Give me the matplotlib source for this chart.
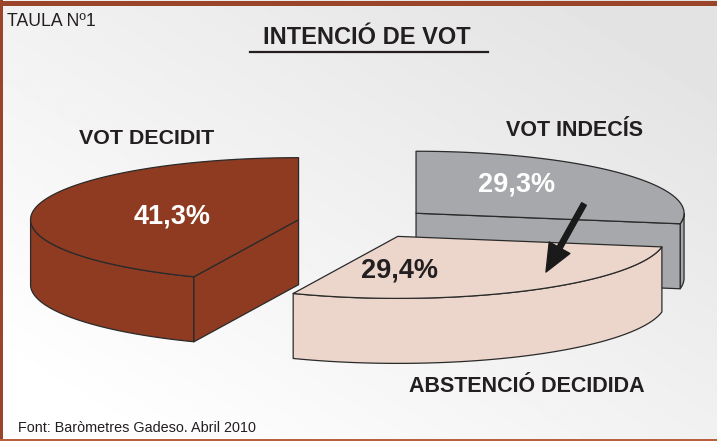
import numpy as np
import matplotlib.pyplot as plt
from matplotlib.patches import Polygon, Rectangle

plt.rcParams['font.family'] = ['Liberation Sans', 'DejaVu Sans']

# data (counter-clockwise from the back of the pie)
labels = ['VOT DECIDIT', 'ABSTENCIÓ DECIDIDA', 'VOT INDECÍS']
values = [41.3, 29.4, 29.3]
pct_labels = ['41,3%', '29,4%', '29,3%']
colors = ['#8e3b22', '#ecd6cb', '#a7a8ab']

W, H = 717, 441
fig = plt.figure(figsize=(W / 100, H / 100), dpi=100)
ax = fig.add_axes([0, 0, 1, 1])
ax.set_xlim(0, W)
ax.set_ylim(H, 0)
ax.axis('off')

# background: white bottom-left fading to light grey top-right
xx, yy = np.meshgrid(np.linspace(0, 1, 300), np.linspace(0, 1, 300))
t = np.clip((xx + (1 - yy)) * 0.6 - 0.1, 0, 1)
ax.imshow(1 - 0.11 * t, cmap='gray', vmin=0, vmax=1, extent=(0, W, H, 0),
          aspect='auto', zorder=0, interpolation='bilinear')

# frame
ax.add_patch(Rectangle((0, 1), W, 5, color='#9a4529', zorder=1, lw=0))
ax.add_patch(Rectangle((0, 0), 3, H, color='#9a4529', zorder=1, lw=0))
ax.add_patch(Rectangle((0, H - 2.5), W, 2.5, color='#b9613f', zorder=1, lw=0))

# 3d exploded pie
cx0, cy0 = 364, 223
rx, ry = 268, 62
depth = 65
explode = 0.25
warp = 9.0   # slight perspective stretch of the front half
edge = '#2a2a2a'

def view(a):
    # screen angle for a pie angle (degrees)
    return a + warp * (1 - np.sin(np.radians(a))) / 2

slices = []
start = 90.0
for lab, v, c in zip(labels, values, colors):
    a0, a1 = start, start + 360 * v / 100
    start = a1
    mid = np.radians(view((a0 + a1) / 2))
    cx = cx0 + explode * rx * np.cos(mid)
    cy = cy0 - explode * ry * np.sin(mid)
    slices.append((cy, cx, view(a0), view(a1), c))

def pt(cx, cy, a, dz=0):
    r = np.radians(a)
    return cx + rx * np.cos(r), cy - ry * np.sin(r) + dz

for cy, cx, a0, a1, c in sorted(slices):
    th = np.linspace(a0, a1, 200)
    xs, ys = pt(cx, cy, th)
    style = dict(facecolor=c, edgecolor=edge, lw=0.9, joinstyle='round')
    # outer wall (front half only)
    m = np.sin(np.radians(th)) <= 1e-9
    if m.any():
        wx, wy = xs[m], ys[m]
        wall = np.column_stack([np.r_[wx, wx[::-1]], np.r_[wy, wy[::-1] + depth]])
        ax.add_patch(Polygon(wall, zorder=2, **style))
    # radial faces facing the viewer
    for a, vis in ((a0, np.cos(np.radians(a0)) > 1e-6), (a1, np.cos(np.radians(a1)) < -1e-6)):
        if vis:
            ex, ey = pt(cx, cy, a)
            face = [(cx, cy), (ex, ey), (ex, ey + depth), (cx, cy + depth)]
            ax.add_patch(Polygon(face, zorder=2, **style))
    top = np.column_stack([np.r_[cx, xs], np.r_[cy, ys]])
    ax.add_patch(Polygon(top, zorder=2, **style))

# texts
dark = '#231f20'
ax.text(7, 22, 'TAULA Nº1', fontsize=12.7, color=dark, va='center', ha='left')
ax.text(367, 37, 'INTENCIÓ DE VOT', fontsize=17, fontweight='bold', color=dark,
        ha='center', va='center')
ax.plot([250, 488], [52, 52], color=dark, lw=1.6, zorder=3)

ax.text(147, 138, labels[0], fontsize=15.4, fontweight='bold', color=dark, ha='center', va='center')
ax.text(574, 130, labels[2], fontsize=15.5, fontweight='bold', color=dark, ha='center', va='center')
ax.text(527, 386, labels[1], fontsize=15.5, fontweight='bold', color=dark, ha='center', va='center')

ax.text(172, 216, pct_labels[0], fontsize=19.5, fontweight='bold', color='white',
        ha='center', va='center', zorder=4)
ax.text(517, 184, pct_labels[2], fontsize=19.5, fontweight='bold', color='white',
        ha='center', va='center', zorder=4)
ax.text(400, 270, pct_labels[1], fontsize=19.5, fontweight='bold', color=dark,
        ha='center', va='center', zorder=4)

ax.annotate('', xy=(546, 272), xytext=(584, 204), zorder=5,
            arrowprops=dict(facecolor='#1a1a1a', edgecolor='#1a1a1a', width=3.8,
                            headwidth=17, headlength=20, shrink=0))

ax.text(18, 428, 'Font: Baròmetres Gadeso. Abril 2010', fontsize=10.4, color=dark,
        ha='left', va='center')

fig.savefig('out.png', dpi=100)
